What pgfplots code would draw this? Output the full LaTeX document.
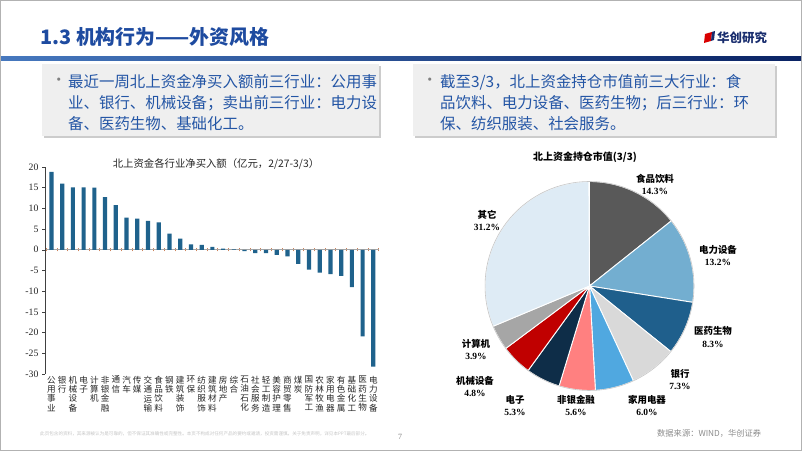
\documentclass[border=0pt]{standalone}
\usepackage{pgfplots}
\pgfplotsset{compat=1.18}
\usepackage{fontspec}
\setmainfont{Liberation Serif}
\newfontfamily\cjk{Noto Sans CJK SC}
\definecolor{barc}{RGB}{31,98,140}
\definecolor{ttl}{RGB}{30,75,160}
\definecolor{txtb}{RGB}{35,85,165}
\definecolor{boxg}{RGB}{239,239,239}
\definecolor{tko}{RGB}{205,130,90}
\definecolor{pA}{RGB}{89,89,89}
\definecolor{pB}{RGB}{115,174,208}
\definecolor{pC}{RGB}{31,95,140}
\definecolor{pD}{RGB}{217,217,217}
\definecolor{pE}{RGB}{80,168,224}
\definecolor{pF}{RGB}{255,128,128}
\definecolor{pG}{RGB}{14,45,72}
\definecolor{pH}{RGB}{192,0,0}
\definecolor{pI}{RGB}{166,166,166}
\definecolor{pJ}{RGB}{222,235,245}
\definecolor{gbarL}{RGB}{70,120,190}
\definecolor{gbarR}{RGB}{10,35,100}
\definecolor{logob}{RGB}{25,45,110}

\pgfplotstableread{
idx val
0 18.8
1 16.0
2 15.1
3 15.1
4 15.0
5 12.7
6 10.8
7 7.8
8 7.5
9 7.0
10 6.6
11 3.9
12 2.7
13 1.3
14 1.2
15 0.7
16 0.3
17 0.1
18 -0.3
19 -0.8
20 -0.8
21 -1.2
22 -1.6
23 -3.4
24 -4.8
25 -5.5
26 -5.9
27 -6.3
28 -9.0
29 -20.9
30 -28.2
}\flowdata

\begin{document}
\begin{tikzpicture}[x=1bp,y=1bp]
\path[use as bounding box] (0,0) rectangle (802,451);
\fill[white] (0,0) rectangle (802,451);
\draw[gray!60, line width=1.2bp] (0.6,0.6) rectangle (801.4,450.4);
% header
\node[anchor=west, inner sep=0, text=ttl, font=\cjk\bfseries\fontsize{20}{24}\selectfont] at (40,414) {1.3 机构行为——外资风格};
\shade[left color=gbarL, right color=gbarR] (1,390) rectangle (801,394);
% logo
\fill[red!85!black] (704,408) -- (711,410) -- (712,419) -- (705,417) -- cycle;
\fill[logob] (711,410) -- (714,411) -- (715,420) -- (712,419) -- cycle;
\node[anchor=west, inner sep=0, text=logob, font=\cjk\bfseries\fontsize{12.5}{14}\selectfont] at (717,413) {华创研究};
% text boxes
\fill[gray!40] (44,313) rectangle (381,385);
\fill[boxg] (42,315) rectangle (379,387);
\fill[gray!40] (415,313) rectangle (777,385);
\fill[boxg] (413,315) rectangle (775,387);
\begin{scope}[every node/.style={anchor=west, inner sep=0, text=txtb, font=\cjk\fontsize{15.5}{18}\selectfont}]
\node[text=gray] at (51,369) {•};
\node at (68,369) {最近一周北上资金净买入额前三行业：公用事};
\node at (68,348) {业、银行、机械设备；卖出前三行业：电力设};
\node at (68,327) {备、医药生物、基础化工。};
\node[text=gray] at (422,369) {•};
\node at (440,369) {截至3/3，北上资金持仓市值前三大行业：食};
\node at (440,348) {品饮料、电力设备、医药生物；后三行业：环};
\node at (440,327) {保、纺织服装、社会服务。};
\end{scope}
% bar chart
\node[font=\cjk\fontsize{10.4}{12}\selectfont, text=black!85] at (216,287) {北上资金各行业净买入额（亿元，2/27-3/3）};
\begin{axis}[
  at={(45bp,77bp)}, anchor=south west,
  scale only axis, width=333.7bp, height=207bp,
  xmin=-0.6, xmax=30.5, ymin=-30, ymax=20,
  axis y line*=left, axis x line*=middle,
  y axis line style={black!75, line width=0.5bp},
  x axis line style={gray!70, line width=0.6bp},
  ytick={-30,-25,...,20},
  ytick align=outside,
  y tick style={black!75, line width=0.5bp},
  major tick length=3bp,
  /pgf/number format/assume math mode=true,
  yticklabel style={font=\fontsize{9.8}{10}\selectfont, text=black!85},
  xtick={-0.5,0.5,...,30.5},
  xticklabels={},
  xtick align=center,
  x tick style={tko, line width=0.6bp},
  extra x ticks={0,1,...,30},
  extra x tick style={major tick length=0pt},
  extra x tick labels={{公\\用\\事\\业},{银\\行},{机\\械\\设\\备},{电\\子},{计\\算\\机},{非\\银\\金\\融},{通\\信},{汽\\车},{传\\媒},{交\\通\\运\\输},{食\\品\\饮\\料},{钢\\铁},{建\\筑\\装\\饰},{环\\保},{纺\\织\\服\\饰},{建\\筑\\材\\料},{房\\地\\产},{综\\合},{石\\油\\石\\化},{社\\会\\服\\务},{轻\\工\\制\\造},{美\\容\\护\\理},{商\\贸\\零\\售},{煤\\炭},{国\\防\\军\\工},{农\\林\\牧\\渔},{家\\用\\电\\器},{有\\色\\金\\属},{基\\础\\化\\工},{医\\药\\生\\物},{电\\力\\设\\备}},
  xticklabel style={align=center, anchor=north, yshift=-126bp, inner sep=0pt, font=\cjk\fontsize{8.6}{9.4}\selectfont, text=black!85},
  clip=false,
]
\addplot[ybar, bar width=4.2bp, fill=barc, draw=none] table[x=idx, y=val] {\flowdata};
\end{axis}
% pie chart
\node[font=\cjk\bfseries\fontsize{10}{12}\selectfont] at (585,294) {北上资金持仓市值(3/3)};
\pgfmathsetmacro\aA{90}
\pgfmathsetmacro\aB{90-3.6*(14.3)}
\pgfmathsetmacro\aC{90-3.6*(14.3+13.2)}
\pgfmathsetmacro\aD{90-3.6*(14.3+13.2+8.3)}
\pgfmathsetmacro\aE{90-3.6*(14.3+13.2+8.3+7.3)}
\pgfmathsetmacro\aF{90-3.6*(14.3+13.2+8.3+7.3+6.0)}
\pgfmathsetmacro\aG{90-3.6*(14.3+13.2+8.3+7.3+6.0+5.6)}
\pgfmathsetmacro\aH{90-3.6*(14.3+13.2+8.3+7.3+6.0+5.6+5.3)}
\pgfmathsetmacro\aI{90-3.6*(14.3+13.2+8.3+7.3+6.0+5.6+5.3+4.8)}
\pgfmathsetmacro\aJ{90-3.6*(14.3+13.2+8.3+7.3+6.0+5.6+5.3+4.8+3.9)}
\pgfmathsetmacro\aK{90-3.6*(14.3+13.2+8.3+7.3+6.0+5.6+5.3+4.8+3.9+31.2)}
\begin{axis}[
  at={(485bp,60.5bp)}, anchor=south west,
  scale only axis, width=209bp, height=209bp,
  xmin=-1, xmax=1, ymin=-1, ymax=1, hide axis, clip=false,
  every axis plot/.append style={draw=white, line width=0.9bp, samples=60, variable=\t},
]
\addplot[fill=pA, domain=\aB:\aA] ({cos(\t)},{sin(\t)}) -- (axis cs:0,0) -- cycle;
\addplot[fill=pB, domain=\aC:\aB] ({cos(\t)},{sin(\t)}) -- (axis cs:0,0) -- cycle;
\addplot[fill=pC, domain=\aD:\aC] ({cos(\t)},{sin(\t)}) -- (axis cs:0,0) -- cycle;
\addplot[fill=pD, domain=\aE:\aD] ({cos(\t)},{sin(\t)}) -- (axis cs:0,0) -- cycle;
\addplot[fill=pE, domain=\aF:\aE] ({cos(\t)},{sin(\t)}) -- (axis cs:0,0) -- cycle;
\addplot[fill=pF, domain=\aG:\aF] ({cos(\t)},{sin(\t)}) -- (axis cs:0,0) -- cycle;
\addplot[fill=pG, domain=\aH:\aG] ({cos(\t)},{sin(\t)}) -- (axis cs:0,0) -- cycle;
\addplot[fill=pH, domain=\aI:\aH] ({cos(\t)},{sin(\t)}) -- (axis cs:0,0) -- cycle;
\addplot[fill=pI, domain=\aJ:\aI] ({cos(\t)},{sin(\t)}) -- (axis cs:0,0) -- cycle;
\addplot[fill=pJ, domain=\aK:\aJ] ({cos(\t)},{sin(\t)}) -- (axis cs:0,0) -- cycle;
\addplot[draw=gray!45, line width=0.6bp, domain=0:360, samples=120] ({cos(\t)},{sin(\t)});
\end{axis}
\begin{scope}[every node/.style={align=center, inner sep=0, font=\fontsize{9.5}{12.6}\selectfont\bfseries}]
\node at (655,451-184.5) {{\cjk 食品饮料}\\14.3\%};
\node at (718,451-255.5) {{\cjk 电力设备}\\13.2\%};
\node at (713,451-337) {{\cjk 医药生物}\\8.3\%};
\node at (680,451-379.5) {{\cjk 银行}\\7.3\%};
\node at (647,451-405.5) {{\cjk 家用电器}\\6.0\%};
\node at (576,451-405.5) {{\cjk 非银金融}\\5.6\%};
\node at (515,451-405.5) {{\cjk 电子}\\5.3\%};
\node at (475,451-386.5) {{\cjk 机械设备}\\4.8\%};
\node at (476,451-349.5) {{\cjk 计算机}\\3.9\%};
\node at (487,451-220.5) {{\cjk 其它}\\31.2\%};
\end{scope}
% footer
\node[anchor=west, inner sep=0, text=gray!45, font=\cjk\fontsize{4.6}{5}\selectfont] at (40,17) {此页包含的资料，其来源被认为是可靠的，但不保证其准确性或完整性。本页不构成对任何产品的要约或邀请，投资需谨慎。关于免责声明，详见本PPT最后部分。};
\node[text=gray, font=\fontsize{8}{9}\selectfont] at (400,14) {7};
\node[anchor=west, inner sep=0, text=gray!90, font=\cjk\fontsize{8.3}{9}\selectfont] at (657,18) {数据来源：WIND，华创证券};
\end{tikzpicture}
\end{document}
